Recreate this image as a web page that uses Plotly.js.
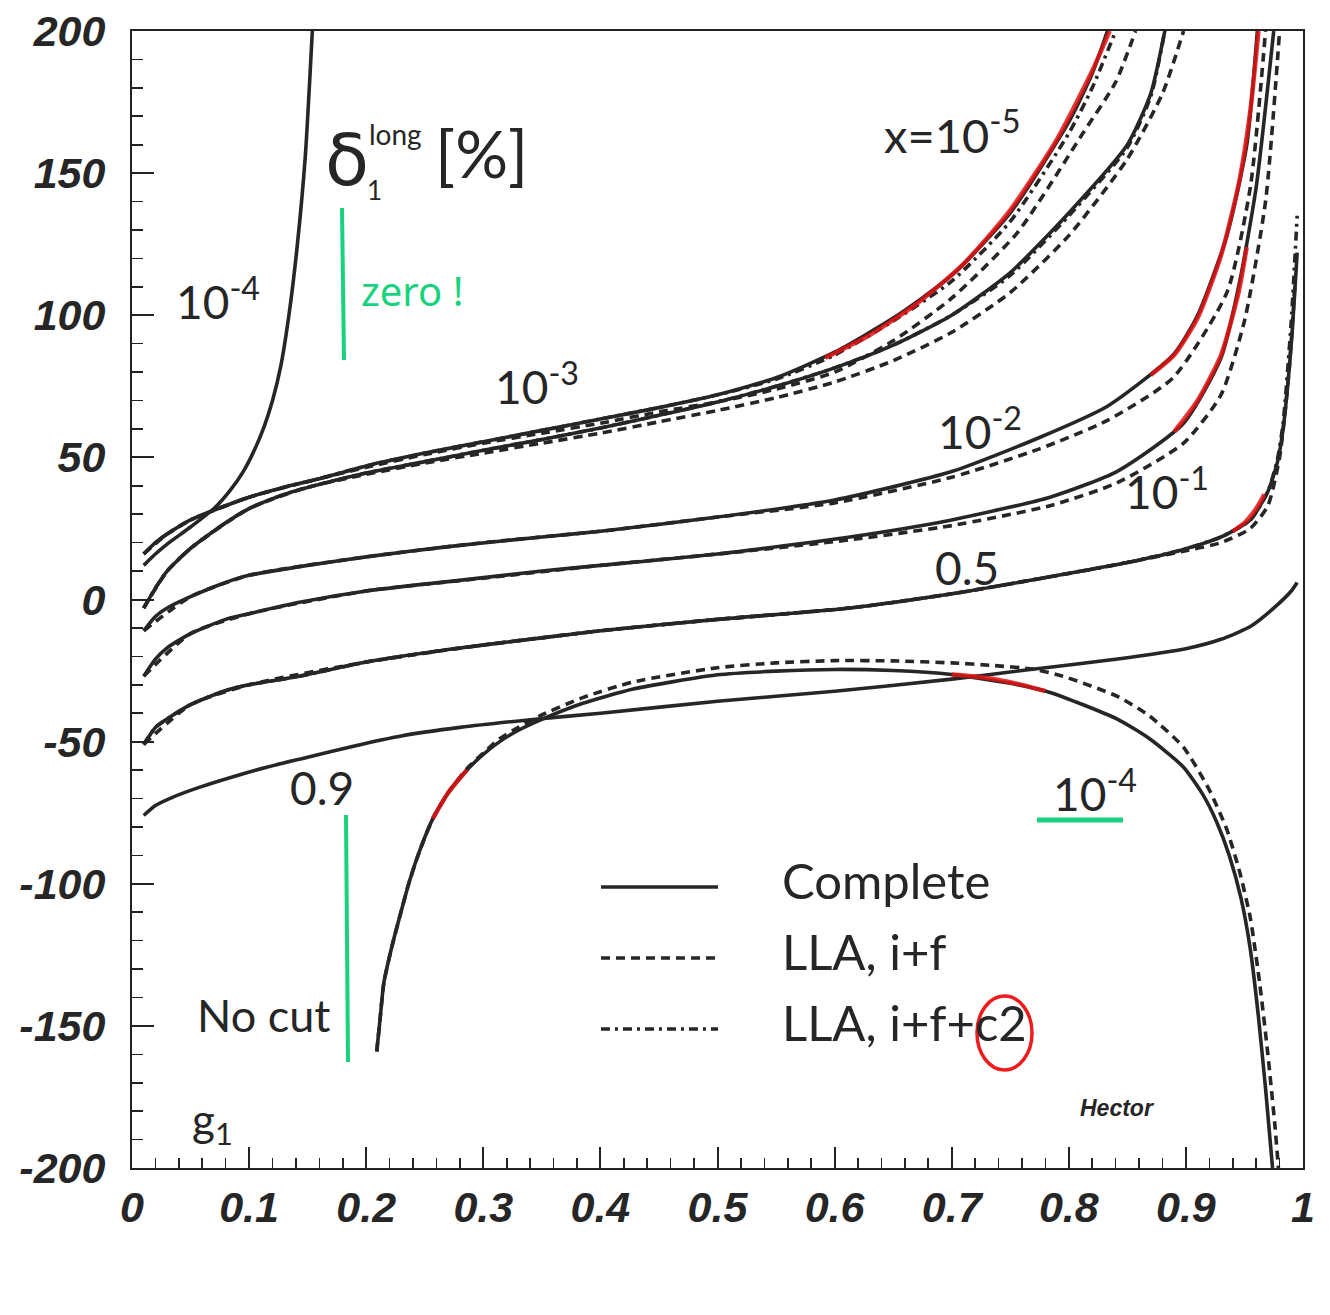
<!DOCTYPE html>
<html><head><meta charset="utf-8">
<script src="https://cdn.plot.ly/plotly-3.0.1.min.js"></script>
<style>html,body{margin:0;padding:0;background:#fff}#chart{width:1330px;height:1315px}</style>
</head><body><div id="chart"></div>
<script>
// ---------- tick labels ----------
const xTickVals = [0,0.1,0.2,0.3,0.4,0.5,0.6,0.7,0.8,0.9,1];
const xTickText = ['0','0.1','0.2','0.3','0.4','0.5','0.6','0.7','0.8','0.9','1'];
const yTickVals = [-200,-150,-100,-50,0,50,100,150,200];
const yTickText = ['-200','-150','-100','-50','0','50','100','150','200'];

// ---------- x = 1e-4, branch below the zero of g1 (y < 0.18) ----------
const x4L = [0.01,0.02,0.03,0.05,0.07,0.084,0.095,0.105,0.113,0.12,0.127,0.134,0.141,0.148,0.154];
const y4L = [12,16,19.5,25.5,32,38.5,45,53,61,70,82,100,124,156,200];

// ---------- x = 1e-4, branch above the zero (y > 0.18) ----------
const xBw = [0.209,0.212,0.215,0.222,0.229,0.237,0.246,0.257,0.27,0.286,0.3,0.314,0.33,0.348,0.385,0.428,0.5,0.55,0.6,0.65,0.7,0.75,0.784,0.841,0.869,0.898,0.915,0.926,0.937,0.947,0.955,0.962,0.968,0.974];
const yBw = [-159,-147,-135,-122,-111,-99,-88,-77,-68,-60,-54.5,-50,-46,-42.5,-36.5,-31.5,-26.5,-25.2,-24.6,-25,-26.4,-29.5,-32.7,-42,-49,-59,-69,-78,-90,-105,-123,-147,-172,-200];
const xBwD = [0.209,0.212,0.215,0.222,0.229,0.237,0.246,0.257,0.27,0.286,0.3,0.314,0.33,0.348,0.385,0.428,0.5,0.55,0.6,0.65,0.7,0.735,0.769,0.795,0.841,0.869,0.898,0.92,0.935,0.946,0.955,0.963,0.97,0.976,0.979];
const yBwD = [-159,-147,-135,-122,-111,-99,-88,-77,-68,-59.5,-54,-49,-45,-41,-34.5,-29,-24,-22.3,-21.5,-21.6,-22.3,-23.2,-24.5,-27,-34,-41,-52,-67,-81,-96,-112,-135,-160,-185,-200];

// ---------- x = 1e-5 ----------
const xA  = [0.01,0.02,0.03,0.05,0.08,0.1,0.13,0.16,0.2,0.25,0.3,0.35,0.4,0.45,0.5,0.55,0.6,0.65,0.7,0.75,0.8,0.82,0.833];
const yA  = [16,20,23,28,33,36,39.5,42.5,47,51.5,55.5,59.5,63.5,67.5,72,78,87,99,114,136,168,185,200];
const xAdd = [0.01,0.02,0.03,0.05,0.08,0.1,0.13,0.16,0.2,0.25,0.3,0.35,0.4,0.45,0.5,0.55,0.6,0.65,0.7,0.75,0.8,0.82,0.84];
const yAdd = [16,20,23,28,33,36,39.5,42.5,47,51.5,55.5,59.5,63.5,67.5,72,77.5,86,98,112,133,164,180,200];
const xAd = [0.01,0.03,0.05,0.1,0.15,0.2,0.25,0.3,0.35,0.4,0.45,0.5,0.55,0.6,0.65,0.7,0.756,0.812,0.84,0.857];
const yAd = [16,23,28,36,41.5,46.5,51,55,58.5,62,66,69.5,74,80,91,106,129,164,182,200];

// ---------- x = 1e-3 ----------
const xB  = [0.01,0.02,0.03,0.05,0.08,0.1,0.13,0.16,0.2,0.25,0.3,0.35,0.4,0.45,0.5,0.55,0.6,0.65,0.7,0.75,0.8,0.85,0.87,0.882];
const yB  = [-3,4,10,18,27,32,37,40.5,44.5,48.5,52.5,56.3,60.3,64.8,69.5,75,81.5,89.5,100,115,136,160,178,200];
const yBdd = [-3,4,10,18,27,32,37,40.5,44.5,48.5,52.5,56.3,60.3,64.8,69.5,75,81.5,89.5,100,114,135,159,177,200];
const xBd = [0.01,0.03,0.05,0.1,0.15,0.2,0.25,0.3,0.35,0.4,0.45,0.5,0.55,0.6,0.65,0.7,0.75,0.8,0.85,0.88,0.898];
const yBd = [-3,10,18,32,39.5,44,48,51.5,55,58.5,62.5,66.5,71,76.5,84,94,108,128,155,178,200];

// ---------- x = 1e-2 ----------
const xC  = [0.01,0.02,0.03,0.05,0.08,0.1,0.15,0.2,0.27,0.35,0.4,0.5,0.6,0.7,0.775,0.833,0.889,0.91,0.935,0.952,0.961];
const yC  = [-11,-6,-3,1,6,8.5,12,15,18.6,22,24,29,35,45,57,68,86,100,128,160,200];
const xCd = [0.01,0.05,0.1,0.2,0.3,0.4,0.5,0.6,0.7,0.775,0.833,0.889,0.935,0.955,0.968];
const yCd = [-11,1,8.5,15,20,24,29,34,43,53,63,78,108,145,200];

// ---------- x = 1e-1 ----------
const xD  = [0.01,0.02,0.03,0.05,0.08,0.1,0.143,0.2,0.27,0.35,0.4,0.5,0.613,0.7,0.784,0.841,0.898,0.93,0.946,0.96,0.975];
const yD  = [-27,-21,-17,-12,-7,-5,-1,3,6.3,10,12,16,22,28,36,45,62,85,112,145,200];
const xDd = [0.01,0.05,0.1,0.2,0.3,0.4,0.5,0.613,0.7,0.784,0.841,0.898,0.93,0.95,0.968,0.98];
const yDd = [-27,-12,-5,3,7.5,12,16,21,26,33,41,55,72,98,140,200];

// ---------- x = 0.5 ----------
const xH  = [0.01,0.02,0.03,0.05,0.08,0.1,0.143,0.2,0.27,0.35,0.4,0.5,0.613,0.7,0.784,0.85,0.898,0.93,0.955,0.97,0.978,0.983,0.99,0.995];
const yH  = [-51,-45,-42,-37,-32,-30,-27,-22,-17.6,-13.5,-11,-7,-3,2,8,13,17.6,22,28,38,48,60,90,122];
const yHdd = [-51,-45,-42,-37,-32,-30,-27,-22,-17.6,-13.5,-11,-7,-3,2,8,13,17.6,22,28,38,49,62,98,135];
const xHd = [0.01,0.05,0.1,0.2,0.3,0.4,0.5,0.613,0.7,0.784,0.85,0.898,0.93,0.955,0.97,0.98,0.988,0.993];
const yHd = [-51,-37,-30,-22,-16,-11,-7,-3,2,8,13,17,20,25,33,50,80,110];

// ---------- x = 0.9 ----------
const xN  = [0.01,0.02,0.035,0.058,0.085,0.115,0.15,0.19,0.23,0.28,0.34,0.4,0.5,0.6,0.7,0.76,0.84,0.9,0.93,0.955,0.975,0.99,0.995];
const yN  = [-76,-72.5,-69.5,-66,-62.5,-59,-55.5,-51.5,-48,-45,-42.3,-40,-35.8,-32.3,-28,-25,-21,-17.3,-14,-9.5,-3,3,6];

// ---------- red pen marks on the LLA i+f+c2 curves ----------
const xRA = [0.592,0.63,0.67,0.71,0.75,0.79,0.82,0.835];
const yRA = [85,93,104,118,137,162,186,200];
const xRC = [0.87,0.89,0.91,0.93,0.945,0.955,0.962];
const yRC = [79,86,99,121,146,172,200];
const xRD = [0.89,0.91,0.93,0.945,0.952];
const yRD = [59,70,86,108,124];
const xRH = [0.94,0.95,0.96,0.967];
const yRH = [24,27,32,37];
const xRB1 = [0.257,0.27,0.286];
const yRB1 = [-77,-68,-60];
const xRB2 = [0.70,0.73,0.76,0.78];
const yRB2 = [-26.4,-27.6,-30,-32.2];

const INK = '#262626';
const W = 3.6;
const DASH = '9px,6px';
const DASHDOT = '9px,5px,3px,5px';
const SMOOTH = {shape:'spline', smoothing:0.6};

function tr(x, y, name, dash) {
  return {
    type:'scatter', mode:'lines', x:x, y:y, name:name, showlegend:false, hoverinfo:'skip',
    line:Object.assign({color:INK, width:W, dash:dash}, SMOOTH)
  };
}
function red(x, y) {
  return {type:'scatter', mode:'lines', x:x, y:y, showlegend:false, hoverinfo:'skip',
    line:Object.assign({color:'rgba(225,20,20,0.85)', width:4.4}, SMOOTH)};
}

const data = [
  tr(xAd, yAd, 'LLA, i+f', DASH),
  tr(xBd, yBd, 'LLA, i+f', DASH),
  tr(xCd, yCd, 'LLA, i+f', DASH),
  tr(xDd, yDd, 'LLA, i+f', DASH),
  tr(xHd, yHd, 'LLA, i+f', DASH),
  tr(xBwD, yBwD, 'LLA, i+f', DASH),
  tr(xAdd, yAdd, 'LLA, i+f+c2', DASHDOT),
  tr(xB, yBdd, 'LLA, i+f+c2', DASHDOT),
  tr(xH, yHdd, 'LLA, i+f+c2', DASHDOT),
  tr(x4L, y4L, 'Complete', 'solid'),
  tr(xBw, yBw, 'Complete', 'solid'),
  tr(xA, yA, 'Complete', 'solid'),
  tr(xB, yB, 'Complete', 'solid'),
  tr(xC, yC, 'Complete', 'solid'),
  tr(xD, yD, 'Complete', 'solid'),
  tr(xH, yH, 'Complete', 'solid'),
  tr(xN, yN, 'Complete', 'solid'),
  red(xRA, yRA), red(xRC, yRC), red(xRD, yRD), red(xRH, yRH), red(xRB1, yRB1), red(xRB2, yRB2)
];

// pixel -> axis helpers for decorations (labels, legend keys, pen marks)
const PX0 = 132, PXW = 1171, PY0 = 599.5, PYS = 2.8425;
const X = px => (px - PX0) / PXW;
const Y = py => (PY0 - py) / PYS;

const TXT = '#262626';
const LFONT = 'Lato, "Noto Sans", sans-serif';
function lab(text, px, py, size, opts) {
  return Object.assign({x:X(px), y:Y(py), xref:'x', yref:'y', text:text, showarrow:false,
    xanchor:'center', yanchor:'middle', font:{family:LFONT, size:size, color:TXT}}, opts || {});
}

const annotations = [
  lab('x=10<sup>-5</sup>', 952, 132, 47),
  lab('10<sup>-4</sup>', 218, 298, 46),
  lab('10<sup>-3</sup>', 537, 383, 46),
  lab('10<sup>-2</sup>', 980, 428, 46),
  lab('10<sup>-1</sup>', 1167, 488, 46),
  lab('0.5', 967, 567, 46),
  lab('0.9', 322, 787, 46),
  lab('10<sup>-4</sup>', 1095, 790, 46),
  lab('No cut', 263, 1015, 45),
  lab('g<sub>1</sub>', 212, 1122, 44),
  lab('Hector', 1117, 1108, 23, {font:{family:'Liberation Sans, Arial', size:23, color:TXT, weight:'bold', style:'italic'}}),
  lab('Complete', 780, 880, 49, {xanchor:'left'}),
  lab('LLA, i+f', 780, 951, 49, {xanchor:'left'}),
  lab('LLA, i+f+c2', 780, 1022, 49, {xanchor:'left'}),
  lab('δ', 347, 160, 72, {font:{family:'"DejaVu Sans", sans-serif', size:72, color:TXT}}),
  lab('long', 395, 134, 28),
  lab('1', 374, 190, 26),
  lab('[%]', 481, 152, 66),
  lab('y', 1284, 1282, 72),
  lab('zero !', 412, 290, 40, {font:{family:'"Noto Sans", sans-serif', size:40, color:'#19d27e'}})
];

const shapes = [
  // legend keys
  {type:'line', xref:'x', yref:'y', x0:X(601), x1:X(718), y0:Y(887), y1:Y(887), line:{color:INK, width:W}},
  {type:'line', xref:'x', yref:'y', x0:X(601), x1:X(718), y0:Y(958), y1:Y(958), line:{color:INK, width:W, dash:DASH}},
  {type:'line', xref:'x', yref:'y', x0:X(601), x1:X(718), y0:Y(1029), y1:Y(1029), line:{color:INK, width:W, dash:DASHDOT}},
  // green pen marks
  {type:'line', xref:'x', yref:'y', x0:X(342), x1:X(344), y0:Y(208), y1:Y(360), line:{color:'#19d27e', width:4}},
  {type:'line', xref:'x', yref:'y', x0:X(346), x1:X(348), y0:Y(815), y1:Y(1062), line:{color:'#19d27e', width:4}},
  {type:'line', xref:'x', yref:'y', x0:X(1037), x1:X(1123), y0:Y(820), y1:Y(820), line:{color:'#19d27e', width:5}},
  // red circle around c2
  {type:'circle', xref:'x', yref:'y', x0:X(977), x1:X(1032), y0:Y(996), y1:Y(1070), line:{color:'#ee1c1c', width:3.5}}
];

const tickFont = {family:'"Liberation Sans", Arial, sans-serif', size:43, color:TXT, weight:'bold', style:'italic'};

const layout = {
  width:1330, height:1315,
  margin:{l:132, r:27, t:31, b:147},
  paper_bgcolor:'#ffffff', plot_bgcolor:'#ffffff',
  showlegend:false,
  xaxis:{range:[0,1], showline:true, mirror:true, linecolor:'#222', linewidth:2,
    tickmode:'array', tickvals:xTickVals, ticktext:xTickText,
    ticks:'inside', ticklen:21, tickwidth:2, tickcolor:'#222',
    minor:{dtick:0.02, tick0:0, ticks:'inside', ticklen:10, tickwidth:1.6, tickcolor:'#222', showgrid:false},
    showgrid:false, zeroline:false, tickfont:tickFont, ticklabelstandoff:0, fixedrange:true},
  yaxis:{range:[-200,200], showline:true, mirror:true, linecolor:'#222', linewidth:2,
    tickmode:'array', tickvals:yTickVals, ticktext:yTickText,
    ticks:'inside', ticklen:22, tickwidth:2, tickcolor:'#222',
    minor:{dtick:10, tick0:0, ticks:'inside', ticklen:11, tickwidth:1.6, tickcolor:'#222', showgrid:false},
    showgrid:false, zeroline:false, tickfont:tickFont, ticklabelstandoff:16, fixedrange:true},
  annotations:annotations,
  shapes:shapes
};

Plotly.newPlot('chart', data, layout, {staticPlot:true, displayModeBar:false});
</script></body></html>
